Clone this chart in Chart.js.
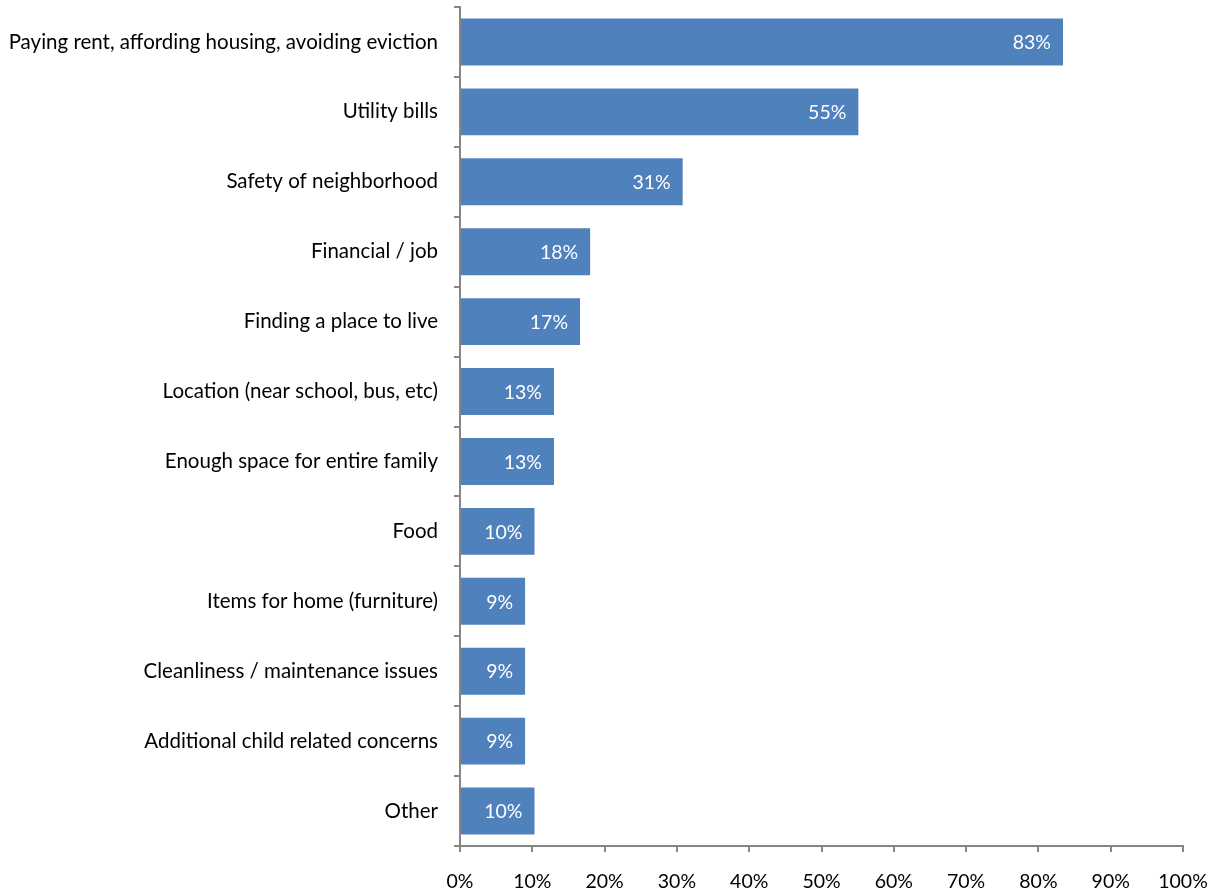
<!DOCTYPE html>
<html>
<head>
<meta charset="utf-8">
<script src="https://cdn.jsdelivr.net/npm/chart.js@4/dist/chart.umd.min.js"></script>
<style>
  html, body { margin: 0; padding: 0; background: #ffffff; }
  #wrap { width: 1217px; height: 890px; }
</style>
</head>
<body>
<div id="wrap"><canvas id="concernsChart"></canvas></div>
<script>
// Housing concerns, share of respondents (%)
const categories = [
    'Paying rent, affording housing, avoiding eviction',
    'Utility bills',
    'Safety of neighborhood',
    'Financial / job',
    'Finding a place to live',
    'Location (near school, bus, etc)',
    'Enough space for entire family',
    'Food',
    'Items for home (furniture)',
    'Cleanliness / maintenance issues',
    'Additional child related concerns',
    'Other'
];
const shares = [83.4, 55.1, 30.8, 18.0, 16.6, 13.0, 13.0, 10.3, 9.0, 9.0, 9.0, 10.3];
const xTicks = [0, 10, 20, 30, 40, 50, 60, 70, 80, 90, 100];

const FONT = 'Lato, "Open Sans", sans-serif';
const AXIS_GRAY = '#868686';

// white value labels at the inner end of each bar
const barValueLabels = {
    id: 'barValueLabels',
    afterDatasetsDraw(chart) {
        const ctx = chart.ctx;
        const meta = chart.getDatasetMeta(0);
        ctx.save();
        ctx.font = '19.5px ' + FONT;
        ctx.fillStyle = '#ffffff';
        ctx.textAlign = 'right';
        ctx.textBaseline = 'middle';
        meta.data.forEach((bar, i) => {
            const txt = Math.round(shares[i]) + '%';
            ctx.fillText(txt, bar.x - 12, bar.y + 1);
        });
        ctx.restore();
    }
};

new Chart(document.getElementById('concernsChart'), {
    type: 'bar',
    data: {
        labels: categories,
        datasets: [{
            data: shares,
            backgroundColor: '#4F81BD',
            borderWidth: 0,
            categoryPercentage: 1.0,
            barPercentage: 0.67
        }]
    },
    options: {
        indexAxis: 'y',
        responsive: true,
        maintainAspectRatio: false,
        animation: false,
        layout: { padding: { top: 7, right: 34, bottom: 0, left: 0 } },
        plugins: {
            legend: { display: false },
            tooltip: { enabled: false }
        },
        scales: {
            x: {
                min: 0,
                max: 100,
                afterBuildTicks(axis) {
                    axis.ticks = xTicks.map(v => ({ value: v }));
                },
                afterFit(axis) {
                    axis.height = 44;
                    axis.paddingLeft = 0;
                    axis.paddingRight = 0;
                },
                border: { color: AXIS_GRAY, width: 2 },
                grid: {
                    drawOnChartArea: false,
                    drawTicks: true,
                    tickLength: 6,
                    color: AXIS_GRAY,
                    lineWidth: 2
                },
                ticks: {
                    padding: 18,
                    color: '#000000',
                    font: { family: FONT, size: 19.5 },
                    maxRotation: 0,
                    callback: v => v + '%'
                }
            },
            y: {
                afterFit(axis) {
                    axis.width = 460;
                    axis.paddingTop = 0;
                    axis.paddingBottom = 0;
                },
                border: { color: AXIS_GRAY, width: 2 },
                grid: {
                    offset: true,
                    drawOnChartArea: false,
                    drawTicks: true,
                    tickLength: 6,
                    color: AXIS_GRAY,
                    lineWidth: 2
                },
                ticks: {
                    padding: 16,
                    color: '#000000',
                    font: { family: FONT, size: 20.5 },
                    autoSkip: false
                }
            }
        }
    },
    plugins: [barValueLabels]
});
</script>
</body>
</html>
